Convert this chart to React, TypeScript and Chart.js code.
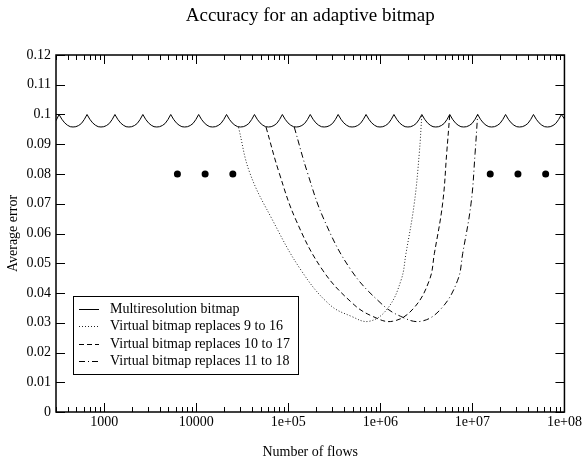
import React, { useEffect, useRef } from "react";
import { Chart, registerables } from "chart.js";

Chart.register(...registerables);

// ---------- data ----------
const X_MIN = 300;
const X_MAX = 1e8;
const xTickValues = [1000, 10000, 1e5, 1e6, 1e7, 1e8];
const xTickLabels = ["1000", "10000", "1e+05", "1e+06", "1e+07", "1e+08"];
const yTickValues = [0, 0.01, 0.02, 0.03, 0.04, 0.05, 0.06, 0.07, 0.08, 0.09, 0.1, 0.11, 0.12];
const yTickLabels = ["0", "0.01", "0.02", "0.03", "0.04", "0.05", "0.06", "0.07", "0.08", "0.09", "0.1", "0.11", "0.12"];

// Multiresolution bitmap: cusp peaks (error 0.1) and the shape of each arc between two peaks
const multiPeaks = [324, 652, 1310, 2633, 5290, 10630, 21360, 42920, 86260, 173300, 348300, 699900,
  1406000, 2826000, 5679000, 11410000, 22930000, 46080000, 92650000];
const multiPeakValue = 0.1;
const arcFractions = [0.1, 0.2, 0.3, 0.4, 0.5, 0.6, 0.7, 0.8, 0.9];
const arcValues = [0.0984, 0.0972, 0.0964, 0.0959, 0.0958, 0.0959, 0.0963, 0.0970, 0.0983];
const multiStartValue = 0.0979;
const multiEndValue = 0.0985;

// Virtual bitmap replaces 9 to 16
const v916X = [28800, 38300, 67500, 137400, 279000, 481000, 760000, 1200000, 1680000, 1900000, 2340000, 2650000, 2826000];
const v916Y = [0.0957, 0.0803, 0.0645, 0.0477, 0.0362, 0.0322, 0.0305, 0.0348, 0.0443, 0.0533, 0.0702, 0.0870, 0.1];
// Virtual bitmap replaces 10 to 17
const v1017X = [57300, 79800, 121300, 236200, 500000, 818000, 1362000, 2290000, 3410000, 3865000, 4755000, 5260000, 5679000];
const v1017Y = [0.0958, 0.0803, 0.0645, 0.0477, 0.0365, 0.0322, 0.0305, 0.0348, 0.0443, 0.0533, 0.0702, 0.0870, 0.1];
// Virtual bitmap replaces 11 to 18
const v1118X = [116100, 162200, 246000, 481000, 1019000, 1650000, 2770000, 4600000, 6920000, 7850000, 9680000, 10700000, 11410000];
const v1118Y = [0.0958, 0.0803, 0.0645, 0.0477, 0.0365, 0.0322, 0.0305, 0.0348, 0.0443, 0.0533, 0.0702, 0.0870, 0.1];

// ellipsis dots
const dotX = [6250, 12500, 25000, 15625000, 31250000, 62500000];
const dotY = [0.08, 0.08, 0.08, 0.08, 0.08, 0.08];

const seriesLabels = [
  "Multiresolution bitmap",
  "Virtual bitmap replaces 9 to 16",
  "Virtual bitmap replaces 10 to 17",
  "Virtual bitmap replaces 11 to 18",
];

// ---------- build tables ----------
function buildMulti() {
  const pts: { x: number; y: number }[] = [{ x: X_MIN, y: multiStartValue }];
  multiPeaks.forEach((p, i) => {
    pts.push({ x: p, y: multiPeakValue });
    if (i < multiPeaks.length - 1) {
      const l0 = Math.log10(p);
      const l1 = Math.log10(multiPeaks[i + 1]);
      arcFractions.forEach((t, j) => pts.push({ x: Math.pow(10, l0 + t * (l1 - l0)), y: arcValues[j] }));
    }
  });
  pts.push({ x: X_MAX, y: multiEndValue });
  return pts;
}
const zip = (xs: number[], ys: number[]) => xs.map((x, i) => ({ x, y: ys[i] }));

const FONT = '"Liberation Serif", "Times New Roman", serif';

const frameTicks = {
  id: "frameTicks",
  afterDatasetsDraw(chart: any) {
    const { ctx, chartArea: a, scales } = chart;
    const xs = scales.x;
    const ys = scales.y;
    ctx.save();
    ctx.strokeStyle = "#000";
    ctx.lineWidth = 1;
    ctx.beginPath();
    for (const v of yTickValues) {
      const py = Math.round(ys.getPixelForValue(v)) + 0.5;
      ctx.moveTo(a.left, py);
      ctx.lineTo(a.left + 9, py);
      ctx.moveTo(a.right, py);
      ctx.lineTo(a.right - 9, py);
    }
    for (let d = 100; d <= X_MAX; d *= 10) {
      for (let m = 1; m <= 9; m++) {
        const v = d * m;
        if (v < X_MIN || v > X_MAX) continue;
        const len = m === 1 ? 9 : 5;
        const px = Math.round(xs.getPixelForValue(v)) + 0.5;
        ctx.moveTo(px, a.bottom);
        ctx.lineTo(px, a.bottom - len);
        ctx.moveTo(px, a.top);
        ctx.lineTo(px, a.top + len);
      }
    }
    ctx.stroke();
    ctx.lineWidth = 1.5;
    ctx.strokeRect(a.left, a.top, a.right - a.left, a.bottom - a.top);
    ctx.restore();
  },
};

const legendBox = {
  id: "legendBox",
  afterDraw(chart: any) {
    const { ctx, chartArea: a } = chart;
    const bx = a.left + 17;
    const by = a.bottom - 116;
    const bw = 225;
    const bh = 78;
    ctx.save();
    ctx.fillStyle = "#fff";
    ctx.fillRect(bx, by, bw, bh);
    ctx.strokeStyle = "#000";
    ctx.lineWidth = 1;
    ctx.strokeRect(bx + 0.5, by + 0.5, bw, bh);
    const items = chart.data.datasets.filter((d: any) => seriesLabels.includes(d.label));
    items.forEach((d: any, i: number) => {
      const cy = Math.round(by + 12.5 + i * 17.6) + 0.5;
      ctx.setLineDash(d.borderDash || []);
      ctx.strokeStyle = d.borderColor;
      ctx.lineWidth = d.borderWidth;
      ctx.beginPath();
      ctx.moveTo(bx + 6, cy);
      ctx.lineTo(bx + 26, cy);
      ctx.stroke();
      ctx.setLineDash([]);
      ctx.fillStyle = "#000";
      ctx.font = `14px ${FONT}`;
      ctx.textBaseline = "middle";
      ctx.textAlign = "left";
      ctx.fillText(d.label, bx + 37, cy);
    });
    ctx.restore();
  },
};

export default function App() {
  const ref = useRef<HTMLCanvasElement | null>(null);
  useEffect(() => {
    if (!ref.current) return;
    const lineBase = { pointRadius: 0, fill: false, borderColor: "#000", borderWidth: 1 };
    const chart = new Chart(ref.current, {
      type: "line",
      data: {
        datasets: [
          { ...lineBase, label: seriesLabels[0], data: buildMulti(), borderDash: [], tension: 0 },
          { ...lineBase, label: seriesLabels[1], data: zip(v916X, v916Y), borderDash: [1, 2], borderColor: "#222", tension: 0.4 },
          { ...lineBase, label: seriesLabels[2], data: zip(v1017X, v1017Y), borderDash: [5, 3], tension: 0.4 },
          { ...lineBase, label: seriesLabels[3], data: zip(v1118X, v1118Y), borderDash: [6, 3, 1, 3], tension: 0.4 },
          {
            label: "dots",
            data: zip(dotX, dotY),
            showLine: false,
            pointRadius: 3.5,
            pointBackgroundColor: "#000",
            pointBorderWidth: 0,
            borderColor: "#000",
          },
        ] as any,
      },
      options: {
        animation: false,
        responsive: false,
        devicePixelRatio: 1,
        layout: { padding: { left: 0, right: 19, top: 0, bottom: 0 } },
        plugins: {
          legend: { display: false },
          tooltip: { enabled: false },
          title: {
            display: true,
            text: "Accuracy for an adaptive bitmap",
            fullSize: false,
            color: "#000",
            font: { family: FONT, size: 19, weight: "normal", lineHeight: 1.2 },
            padding: { top: 5, bottom: 27.2 },
          },
        },
        scales: {
          x: {
            type: "logarithmic",
            min: X_MIN,
            max: X_MAX,
            afterBuildTicks: (s: any) => {
              s.ticks = xTickValues.map((v) => ({ value: v }));
            },
            afterFit: (s: any) => {
              s.height = 49;
            },
            ticks: {
              autoSkip: false,
              maxRotation: 0,
              padding: 2,
              color: "#000",
              font: { family: FONT, size: 14 },
              callback: (_v: any, i: number) => xTickLabels[i],
            },
            grid: { display: false, drawTicks: false },
            border: { display: false },
            title: {
              display: true,
              text: "Number of flows",
              color: "#000",
              font: { family: FONT, size: 14 },
              padding: { top: 0, bottom: 0 },
            },
          },
          y: {
            type: "linear",
            min: 0,
            max: 0.12,
            afterBuildTicks: (s: any) => {
              s.ticks = yTickValues.map((v) => ({ value: v }));
            },
            afterFit: (s: any) => {
              s.width = 56;
            },
            ticks: {
              autoSkip: false,
              padding: 5,
              color: "#000",
              font: { family: FONT, size: 14 },
              callback: (_v: any, i: number) => yTickLabels[i],
            },
            grid: { display: false, drawTicks: false },
            border: { display: false },
            title: {
              display: true,
              text: "Average error",
              color: "#000",
              font: { family: FONT, size: 14 },
              padding: { top: 4.6, bottom: 0 },
            },
          },
        },
      } as any,
      plugins: [frameTicks, legendBox],
    });
    return () => chart.destroy();
  }, []);
  return (
    <div style={{ position: "absolute", left: 0, top: 0, width: 584, height: 461, background: "#fff" }}>
      <canvas ref={ref} width={584} height={461} style={{ width: 584, height: 461, display: "block" }} />
    </div>
  );
}
